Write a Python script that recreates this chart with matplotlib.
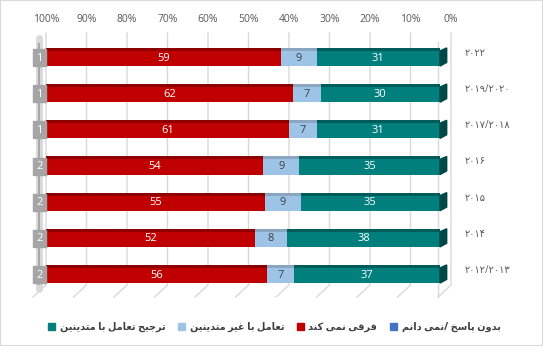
import matplotlib
matplotlib.use('Agg')
from matplotlib import pyplot as plt
from matplotlib.patches import Patch, Rectangle, Polygon

plt.rcParams['font.family'] = ['Open Sans', 'DejaVu Sans']

# Data (top bar first)
years = ['۲۰۲۲', '۲۰۱۹/۲۰۲۰', '۲۰۱۷/۲۰۱۸', '۲۰۱۶', '۲۰۱۵', '۲۰۱۴', '۲۰۱۲/۲۰۱۳']
no_answer = [1, 1, 1, 2, 2, 2, 2]
no_diff = [59, 62, 61, 54, 55, 52, 56]
non_religious = [9, 7, 7, 9, 9, 8, 7]
religious = [31, 30, 31, 35, 35, 38, 37]

lbl_religious = 'ترجیح تعامل با متدینین'
lbl_non_religious = 'تعامل با غیر متدینین'
lbl_no_diff = 'فرقی نمی کند'
lbl_no_answer = 'بدون پاسخ /نمی دانم'

ticks = [0, 10, 20, 30, 40, 50, 60, 70, 80, 90, 100]

# small arabic shaper (matplotlib does no shaping): iso, fin, ini, med
FORMS = {
    'ا': (0xFE8D, 0xFE8E), 'د': (0xFEA9, 0xFEAA), 'ر': (0xFEAD, 0xFEAE), 'و': (0xFEED, 0xFEEE),
    'ب': (0xFE8F, 0xFE90, 0xFE91, 0xFE92), 'پ': (0xFB56, 0xFB57, 0xFB58, 0xFB59),
    'ت': (0xFE95, 0xFE96, 0xFE97, 0xFE98), 'ج': (0xFE9D, 0xFE9E, 0xFE9F, 0xFEA0),
    'ح': (0xFEA1, 0xFEA2, 0xFEA3, 0xFEA4), 'خ': (0xFEA5, 0xFEA6, 0xFEA7, 0xFEA8),
    'س': (0xFEB1, 0xFEB2, 0xFEB3, 0xFEB4), 'ع': (0xFEC9, 0xFECA, 0xFECB, 0xFECC),
    'غ': (0xFECD, 0xFECE, 0xFECF, 0xFED0), 'ف': (0xFED1, 0xFED2, 0xFED3, 0xFED4),
    'ق': (0xFED5, 0xFED6, 0xFED7, 0xFED8), 'ک': (0xFB8E, 0xFB8F, 0xFB90, 0xFB91),
    'ل': (0xFEDD, 0xFEDE, 0xFEDF, 0xFEE0), 'م': (0xFEE1, 0xFEE2, 0xFEE3, 0xFEE4),
    'ن': (0xFEE5, 0xFEE6, 0xFEE7, 0xFEE8), 'ی': (0xFBFC, 0xFBFD, 0xFBFE, 0xFBFF),
}


def shape(text):
    out = []
    for i, ch in enumerate(text):
        if ch not in FORMS:
            out.append(ch)
            continue
        prev = text[i - 1] if i > 0 else ''
        nxt = text[i + 1] if i + 1 < len(text) else ''
        f = FORMS[ch]
        jp = prev in FORMS and len(FORMS[prev]) == 4
        jn = len(f) == 4 and nxt in FORMS
        if jp and jn:
            g = f[3]
        elif jp:
            g = f[1]
        elif jn:
            g = f[2]
        else:
            g = f[0]
        out.append(chr(g))
    return ''.join(reversed(out))


c_red, c_red_top = '#C00000', '#8E0000'
c_lb, c_lb_top = '#9DC3E6', '#8AA5C0'
c_teal, c_teal_top, c_teal_side = '#007F7D', '#005C5A', '#004846'
c_gray = '#A5A5A5'
c_blue = '#4472C4'
c_grid = '#D9D9D9'
c_txt = '#595959'

W, H = 543, 346
fig = plt.figure(figsize=(W / 100, H / 100), dpi=100)
fig.patches.append(Rectangle((0, 0), 1, 1, transform=fig.transFigure, fill=False,
                             edgecolor='#D9D9D9', lw=1.5))

y_bot, y_top = 297, 33
ax_b = 1 - y_bot / H
ax_h = (y_bot - y_top) / H

# back wall: grid and tick labels
back = fig.add_axes([46 / W, ax_b, 405 / W, ax_h])
back.set_xlim(100, 0)
back.set_ylim(0, 1)
for s in back.spines.values():
    s.set_visible(False)
back.set_yticks([])
back.set_xticks(ticks)
back.set_xticklabels([f'{t}%' for t in ticks], fontsize=7.5, color=c_txt)
back.xaxis.tick_top()
back.tick_params(axis='x', length=0, pad=6)
floor = 12 / (y_bot - y_top)
for t in ticks:
    back.plot([t, t, t + 3.2], [1, floor, 0], color=c_grid, lw=1, clip_on=False)
back.plot([3.2, 3.2], [0, 0.965], color=c_grid, lw=1, clip_on=False)
back.plot([101.8, 101.8], [0.03, 0.98], color='#DADADA', lw=5, clip_on=False, solid_capstyle='round')
back.plot([101.8, 101.8], [0.05, 0.96], color='#A8A8A8', lw=1.5, clip_on=False)

# front: bars
ax = fig.add_axes([46 / W, ax_b, 394 / W, ax_h])
ax.patch.set_alpha(0)
ax.set_xlim(100, 0)
ax.set_ylim(6.636, -0.6635)
ax.axis('off')

bh = 0.5
for i, y in enumerate(years):
    tot = religious[i] + non_religious[i] + no_diff[i]
    vals = [religious[i] / tot * 100, non_religious[i] / tot * 100, no_diff[i] / tot * 100]
    labs = [religious[i], non_religious[i], no_diff[i]]
    cols = [(c_teal, c_teal_top, 'white'), (c_lb, c_lb_top, '#404040'), (c_red, c_red_top, 'white')]
    left = 0
    for v, lab, (fc, tc, txc) in zip(vals, labs, cols):
        ax.barh(i, v, left=left, height=bh, color=fc, edgecolor='none')
        ax.barh(i - bh / 2 + 0.04, v, left=left, height=0.08, color=tc, edgecolor='none')
        ax.text(left + v / 2, i + 0.03, str(lab), ha='center', va='center', fontsize=8, color=txc)
        left += v
    # teal side face
    ax.add_patch(Polygon([(0, i - bh / 2 + 0.08), (0, i + bh / 2), (-1.7, i + bh / 2 - 0.1),
                          (-1.7, i - bh / 2)], closed=True, color=c_teal_side, clip_on=False))
    # no answer label box
    ax.add_patch(Rectangle((100, i - 0.22), 3.4, 0.47, color=c_gray, clip_on=False))
    ax.text(101.7, i + 0.03, str(no_answer[i]), ha='center', va='center', fontsize=8, color='white',
            clip_on=False)
    ax.text(1.063, i - 0.1, y, transform=ax.get_yaxis_transform(), ha='left', va='center',
            fontsize=7, color=c_txt)

handles = [Patch(color=c_teal), Patch(color=c_lb), Patch(color=c_red), Patch(color=c_blue)]
labels = [shape(lbl_religious), shape(lbl_non_religious), shape(lbl_no_diff), shape(lbl_no_answer)]
fig.legend(handles, labels, loc='center', bbox_to_anchor=(0.505, 1 - 327 / H), ncol=4, frameon=False,
           prop={'size': 7, 'weight': 'bold'}, handlelength=0.7, handleheight=0.7, handletextpad=0.5,
           columnspacing=1.3, labelcolor='#404040')

fig.savefig('out.png', dpi=100)
